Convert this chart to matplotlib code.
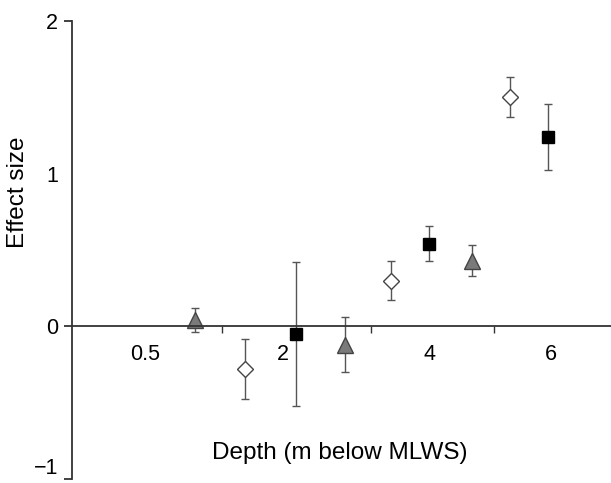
import numpy as np
import matplotlib
matplotlib.use('Agg')
import matplotlib.pyplot as plt

plt.rcParams['font.family'] = ['Liberation Sans', 'DejaVu Sans']

# x positions in arbitrary units along the depth axis
tri_x = [1.65, 3.66, 5.37]
tri_y = [0.04, -0.12, 0.43]
tri_err = [0.08, 0.18, 0.10]

dia_x = [2.32, 4.28, 5.87]
dia_y = [-0.28, 0.30, 1.50]
dia_err = [0.195, 0.125, 0.13]

sq_x = [3.01, 4.79, 6.38]
sq_y = [-0.05, 0.54, 1.24]
sq_err = [0.47, 0.115, 0.215]

depth_pos = [0.98, 2.83, 4.80, 6.42]
depth_labels = ['0.5', '2', '4', '6']
sep_pos = [2.01, 4.01, 5.66]


def main():
    fig = plt.figure(figsize=(6.11, 4.83), dpi=100)
    ax = fig.add_axes([72 / 611, 4 / 483, 1 - 72 / 611, 458 / 483])
    ax.set_xlim(0, 7.23)
    ax.set_ylim(-1, 2)

    err_kw = dict(ecolor='#555555', elinewidth=1.0, capsize=3, capthick=1.0,
                  linestyle='none', zorder=2)
    ax.errorbar(tri_x, tri_y, yerr=tri_err, marker='^', ms=11,
                mfc='#7a7a7a', mec='#444444', mew=1.0, **err_kw)
    ax.errorbar(dia_x, dia_y, yerr=dia_err, marker='D', ms=8.5,
                mfc='white', mec='#444444', mew=1.0, **err_kw)
    ax.errorbar(sq_x, sq_y, yerr=sq_err, marker='s', ms=9,
                mfc='black', mec='black', mew=1.0, **err_kw)

    for side in ('top', 'right'):
        ax.spines[side].set_visible(False)
    ax.spines['bottom'].set_position(('data', 0))
    for side in ('left', 'bottom'):
        ax.spines[side].set_linewidth(1.3)
        ax.spines[side].set_color('#333333')

    ax.set_yticks([-1, 0, 1, 2])
    ax.set_yticklabels(['\u22121', '0', '1', '2'])
    ax.tick_params(axis='y', direction='out', length=6, width=1.3,
                   color='#333333', labelsize=15.5, pad=4)
    ax.yaxis.get_major_ticks()[2].tick1line.set_visible(False)
    # keep the bottom label inside the figure
    ax.yaxis.get_major_ticks()[0].label1.set_verticalalignment('bottom')

    ax.set_xticks(depth_pos)
    ax.set_xticklabels(depth_labels)
    ax.tick_params(axis='x', which='major', length=0, labelsize=15.5, pad=13)
    ax.set_xticks(sep_pos, minor=True)
    ax.tick_params(axis='x', which='minor', direction='out', length=5,
                   width=1.0, color='#333333')

    fig.text(340 / 611, 1 - 453 / 483, 'Depth (m below MLWS)', fontsize=17.5,
             ha='center', va='center')
    fig.text(18 / 611, 1 - 192 / 483, 'Effect size', fontsize=17.5,
             rotation=90, ha='center', va='center')

    fig.savefig('out.png', dpi=100)


if __name__ == '__main__':
    main()
